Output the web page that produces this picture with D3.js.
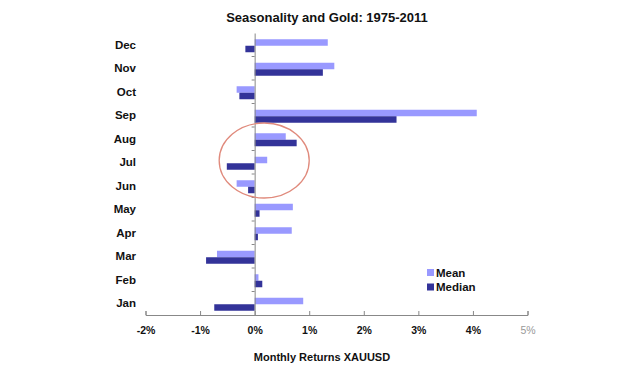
<!DOCTYPE html>
<html>
<head>
	<meta charset="utf-8">
	<title>Seasonality and Gold</title>
	<script src="https://cdn.jsdelivr.net/npm/d3@7"></script>
	<style>
		body { margin: 0; background: #fff; }
		svg { display: block; font-family: "Liberation Sans", Arial, sans-serif; }
	</style>
</head>
<body>
	<div id="chart"></div>
	<script>

	// data (% monthly returns)
	const months  = ["Dec", "Nov", "Oct", "Sep", "Aug", "Jul", "Jun", "May", "Apr", "Mar", "Feb", "Jan"];
	const means   = [1.34, 1.46, -0.33, 4.07, 0.57, 0.23, -0.33, 0.70, 0.68, -0.69, 0.07, 0.89];
	const medians = [-0.17, 1.25, -0.28, 2.60, 0.77, -0.51, -0.12, 0.09, 0.06, -0.89, 0.14, -0.74];
	const xTicks  = [-2, -1, 0, 1, 2, 3, 4, 5];
	const series  = ["Mean", "Median"];

	const width  = 640;
	const height = 376;
	const colors = ["#9999ff", "#333399"];

	const x = d3.scaleLinear().domain([-2, 5]).range([145.5, 527.5]);
	const y = d3.scaleBand().domain(months).range([33, 315]);
	const sub = d3.scaleBand().domain(series).range([y.bandwidth() / 2 - 5.5, y.bandwidth() / 2 + 7.5]);

	const svg = d3.select("#chart").append("svg")
		.attr("width", width)
		.attr("height", height);

	svg.append("text")
		.attr("x", 327)
		.attr("y", 22)
		.attr("text-anchor", "middle")
		.attr("font-weight", "bold")
		.attr("font-size", 13)
		.attr("fill", "#111")
		.text("Seasonality and Gold: 1975-2011");

	// bars
	const rows = months.map((m, i) => ({ month: m, values: [means[i], medians[i]] }));
	const row = svg.append("g").selectAll("g")
		.data(rows)
		.join("g")
		.attr("transform", d => `translate(0,${y(d.month)})`);

	row.selectAll("rect")
		.data(d => d.values.map((v, j) => ({ key: series[j], v: v })))
		.join("rect")
		.attr("x", d => x(Math.min(0, d.v)))
		.attr("width", d => Math.abs(x(d.v) - x(0)))
		.attr("y", d => sub(d.key))
		.attr("height", sub.bandwidth())
		.attr("fill", (d, j) => colors[j]);

	// x axis
	const xAxis = svg.append("g")
		.attr("transform", `translate(0,${y.range()[1]})`)
		.call(d3.axisBottom(x).tickValues(xTicks).tickSize(-4).tickPadding(12).tickFormat(d => d + "%"));
	xAxis.select(".domain").attr("stroke", "#888");
	xAxis.selectAll(".tick line").attr("stroke", "#888");
	xAxis.selectAll(".tick text")
		.attr("font-size", 10.5)
		.attr("fill", d => d === 5 ? "#999" : "#111")
		.attr("font-weight", d => d === 5 ? "normal" : "bold");

	// y axis at zero
	const yAxis = svg.append("g")
		.attr("transform", `translate(${x(0)},0)`)
		.call(d3.axisLeft(y).tickSize(0).tickFormat(""));
	yAxis.select(".domain").attr("stroke", "#888");
	yAxis.selectAll(".tick").remove();
	yAxis.selectAll("line.sep")
		.data(months.slice(1))
		.join("line")
		.attr("class", "sep")
		.attr("x1", -3).attr("x2", 0)
		.attr("y1", d => y(d)).attr("y2", d => y(d))
		.attr("stroke", "#888");

	// month labels
	svg.append("g").selectAll("text")
		.data(months)
		.join("text")
		.attr("x", 136)
		.attr("y", d => y(d) + y.bandwidth() / 2)
		.attr("dy", "0.35em")
		.attr("text-anchor", "end")
		.attr("font-size", 11.5)
		.attr("font-weight", "bold")
		.attr("fill", "#111")
		.text(d => d);

	svg.append("text")
		.attr("x", 322)
		.attr("y", 361)
		.attr("text-anchor", "middle")
		.attr("font-size", 11)
		.attr("font-weight", "bold")
		.attr("fill", "#111")
		.text("Monthly Returns XAUUSD");

	// legend
	const legend = svg.append("g").selectAll("g")
		.data(series)
		.join("g")
		.attr("transform", (d, i) => `translate(427,${272.5 + i * 14.5})`);
	legend.append("rect")
		.attr("x", 0).attr("y", -3.5)
		.attr("width", 7).attr("height", 7)
		.attr("fill", (d, i) => colors[i]);
	legend.append("text")
		.attr("x", 9)
		.attr("dy", "0.35em")
		.attr("font-size", 11.5)
		.attr("font-weight", "bold")
		.attr("fill", "#111")
		.text(d => d);

	// highlight ellipse around Aug-Jun
	const ex0 = x(-0.65), ex1 = x(1.0);
	const ey0 = y("Aug") - 4, ey1 = y("Jun") + 24;
	svg.append("ellipse")
		.attr("cx", (ex0 + ex1) / 2)
		.attr("cy", (ey0 + ey1) / 2)
		.attr("rx", (ex1 - ex0) / 2)
		.attr("ry", (ey1 - ey0) / 2)
		.attr("fill", "none")
		.attr("stroke", "#e08a7c")
		.attr("stroke-width", 1.3);

	</script>
</body>
</html>
